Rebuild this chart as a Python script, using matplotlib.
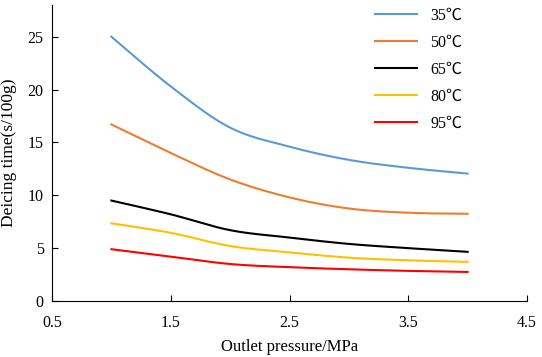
from matplotlib import pyplot as plt
import numpy as np

plt.rcParams['font.family'] = ['Liberation Serif', 'Noto Sans CJK SC']
plt.rc('font', size=11.5)

pressure = [1.0, 1.5, 2.0, 2.5, 3.0, 3.5, 4.0]
t35 = [25.0, 20.3, 16.4, 14.6, 13.35, 12.6, 12.05]
t50 = [16.7, 14.0, 11.5, 9.8, 8.75, 8.35, 8.25]
t65 = [9.5, 8.2, 6.7, 6.0, 5.4, 5.0, 4.65]
t80 = [7.35, 6.45, 5.2, 4.6, 4.1, 3.85, 3.7]
t95 = [4.9, 4.2, 3.5, 3.2, 3.0, 2.85, 2.75]
labels = ['35℃', '50℃', '65℃', '80℃', '95℃']
colors = ['#5b9bd5', '#ed7d31', '#000000', '#ffc000', '#ff0000']
xticks = [0.5, 1.5, 2.5, 3.5, 4.5]
yticks = [0, 5, 10, 15, 20, 25]


def smooth(x, y, n=200):
    # catmull-rom style smoothing, similar to excel smoothed lines
    x = np.asarray(x)
    y = np.asarray(y)
    xs, ys = [], []
    for i in range(len(x) - 1):
        p0 = np.array([x[max(i - 1, 0)], y[max(i - 1, 0)]])
        p1 = np.array([x[i], y[i]])
        p2 = np.array([x[i + 1], y[i + 1]])
        p3 = np.array([x[min(i + 2, len(x) - 1)], y[min(i + 2, len(x) - 1)]])
        t = np.linspace(0, 1, n // (len(x) - 1))[:, None]
        c1 = p1 + (p2 - p0) / 6
        c2 = p2 - (p3 - p1) / 6
        pts = ((1 - t) ** 3) * p1 + 3 * ((1 - t) ** 2) * t * c1 + 3 * (1 - t) * t ** 2 * c2 + t ** 3 * p2
        xs.extend(pts[:, 0])
        ys.extend(pts[:, 1])
    return xs, ys


fig = plt.figure(figsize=(5.42, 3.57), dpi=100)
ax = fig.add_axes([52 / 542, 1 - 301 / 357, (527 - 52) / 542, (301 - 5) / 357])

for ys, lab, c in zip([t35, t50, t65, t80, t95], labels, colors):
    sx, sy = smooth(pressure, ys)
    ax.plot(sx, sy, color=c, label=lab, linewidth=1.5)

ax.set_xlim(0.5, 4.5)
ax.set_ylim(0, 28)
ax.set_xticks(xticks)
ax.set_xticklabels([str(v) for v in xticks])
ax.set_yticks(yticks)
ax.spines['top'].set_visible(False)
ax.spines['right'].set_visible(False)
ax.tick_params(direction='in', length=4, width=0.8)
ax.tick_params(axis='x', pad=10)
ax.tick_params(axis='y', pad=6)
ax.set_xlabel('Outlet pressure/MPa', fontsize=12, labelpad=6)
ax.set_ylabel('Deicing time(s/100g)', fontsize=12.5, labelpad=8)
ax.legend(loc='upper left', frameon=False, handlelength=2.6, handletextpad=0.85,
          labelspacing=0.68, borderpad=0, borderaxespad=0,
          bbox_to_anchor=(375 / 542, 1 - 8 / 357), bbox_transform=fig.transFigure)

fig.savefig('out.png', dpi=100)
